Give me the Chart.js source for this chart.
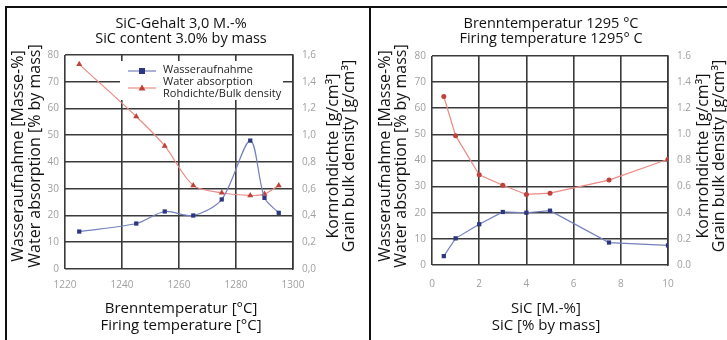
<!DOCTYPE html>
<html>
<head>
<meta charset="utf-8">
<script src="https://cdn.jsdelivr.net/npm/chart.js@4.4.1/dist/chart.umd.min.js"></script>
<style>
	body { margin: 0; background: #fff; }
	#wrap { position: relative; width: 727px; height: 340px; overflow: hidden; background: #fff; }
	#wrap canvas { position: absolute; top: 0; }
	.line { position: absolute; background: #111; z-index: 2; }
</style>
</head>
<body>
<div id="wrap">
	<canvas id="chartTemp" width="370" height="340" style="left:0;width:370px;height:340px"></canvas>
	<canvas id="chartSic" width="357" height="340" style="left:370px;width:357px;height:340px"></canvas>
	<div class="line" style="left:5px;top:6px;width:722px;height:2px"></div>
	<div class="line" style="left:5px;top:6px;width:2px;height:334px"></div>
	<div class="line" style="left:369px;top:6px;width:2px;height:334px"></div>
</div>
<script>
// Diagramm 1: SiC-Gehalt 3,0 M.-%
const tempX = [1225, 1245, 1255, 1265, 1275, 1285, 1290, 1295];
const tempWater = [14, 17, 21.5, 20, 26, 48, 26.6, 21];
const tempDensity = [1.53, 1.14, 0.92, 0.625, 0.57, 0.55, 0.56, 0.625];
const tempTicks = [1220, 1240, 1260, 1280, 1300];

// Diagramm 2: Brenntemperatur 1295 °C
const sicX = [0.5, 1, 2, 3, 4, 5, 7.5, 10];
const sicWater = [3.4, 10.2, 15.6, 20.3, 20, 20.8, 8.6, 7.5];
const sicDensity = [1.29, 0.99, 0.69, 0.61, 0.54, 0.55, 0.65, 0.81];
const sicTicks = [0, 2, 4, 6, 8, 10];

const waterLabel = ["Wasseraufnahme", "Water absorption"];
const densityLabel = "Rohdichte/Bulk density";

const FONT = "'Open Sans', 'DejaVu Sans', sans-serif";
const BLUE = '#2d3680', BLUE_LINE = '#7480bc';
const RED = '#c0403a', RED_LINE = '#ea8a84';

function pts(xs, ys) {
	return xs.map((x, i) => ({ x: x, y: ys[i] }));
}

// Titel, Achsentitel und Legende
const textPlugin = {
	id: 'texts',
	beforeDatasetsDraw(chart, args, o) {
		if (!o.legend) return;
		const c = chart.ctx;
		c.save();
		c.fillStyle = '#fff';
		c.fillRect(120, 61, 163, 39);
		c.font = "11px " + FONT;
		c.fillStyle = '#222';
		c.textBaseline = 'middle';
		c.fillText(waterLabel[0], 163, 70);
		c.fillText(waterLabel[1], 163, 82);
		c.fillText(densityLabel, 163, 94);
		c.lineWidth = 1.2;
		c.strokeStyle = BLUE_LINE;
		c.beginPath(); c.moveTo(128, 71); c.lineTo(156, 71); c.stroke();
		c.strokeStyle = RED_LINE;
		c.beginPath(); c.moveTo(128, 88); c.lineTo(156, 88); c.stroke();
		c.fillStyle = BLUE;
		c.fillRect(139, 68, 6, 6);
		c.fillStyle = RED;
		c.beginPath(); c.moveTo(142, 84.5); c.lineTo(145.5, 90.5); c.lineTo(138.5, 90.5); c.closePath(); c.fill();
		c.restore();
	},
	afterDraw(chart, args, o) {
		const c = chart.ctx;
		c.save();
		c.fillStyle = '#111';
		c.textAlign = 'center';
		c.textBaseline = 'middle';
		c.font = "14.5px " + FONT;
		o.title.forEach((t, i) => c.fillText(t, o.titleX, o.titleY[i]));
		c.font = "15px " + FONT;
		o.xTitle.forEach((t, i) => c.fillText(t, o.xTitleX, o.xTitleY[i]));
		c.font = "16px " + FONT;
		[[o.yTitle, o.yTitleX], [o.y1Title, o.y1TitleX]].forEach(a => {
			a[0].forEach((t, i) => {
				c.save();
				c.translate(a[1][i], o.yTitleY);
				c.rotate(-Math.PI / 2);
				c.fillText(t, 0, 0);
				c.restore();
			});
		});
		c.restore();
	}
};

function makeChart(id, xs, water, density, xTicks, opt) {
	const ctx = document.getElementById(id).getContext('2d');
	const tickFont = { family: FONT, size: 10 };
	const tickColor = '#a0a0a0';
	const grid = { color: '#3a3a3a', lineWidth: 1.6, drawTicks: false };
	return new Chart(ctx, {
		type: 'line',
		plugins: [textPlugin],
		data: {
			datasets: [
				{
					label: waterLabel.join(' '),
					data: pts(xs, water),
					yAxisID: 'y',
					borderColor: BLUE_LINE,
					backgroundColor: BLUE,
					pointStyle: 'rect',
					pointRadius: 3,
					pointBorderWidth: 0,
					borderWidth: 1.2,
					tension: opt.tension,
				}, {
					label: densityLabel,
					data: pts(xs, density),
					yAxisID: 'y1',
					borderColor: RED_LINE,
					backgroundColor: RED,
					pointStyle: opt.redPoint,
					pointRadius: opt.redRadius,
					pointBorderWidth: 0,
					borderWidth: 1.2,
					tension: opt.tension,
				}
			]
		},
		options: {
			responsive: false,
			animation: false,
			layout: { padding: { top: opt.top, left: 0, right: 0, bottom: 0 } },
			plugins: {
				legend: { display: false },
				tooltip: { enabled: false },
				texts: opt.texts
			},
			scales: {
				x: {
					type: 'linear',
					min: xTicks[0],
					max: xTicks[xTicks.length - 1],
					afterBuildTicks: s => { s.ticks = xTicks.map(v => ({ value: v })); },
					afterFit: s => { s.height = opt.xHeight; },
					ticks: { font: tickFont, color: tickColor, padding: opt.xPad, maxRotation: 0, callback: v => String(v) },
					grid: grid,
					border: { display: false }
				},
				y: {
					min: 0, max: 80,
					afterFit: s => { s.width = opt.yWidth; },
					ticks: { stepSize: 10, font: tickFont, color: tickColor, padding: 6 },
					grid: grid,
					border: { display: false }
				},
				y1: {
					position: 'right',
					min: 0, max: 1.6,
					afterFit: s => { s.width = opt.y1Width; },
					ticks: {
						stepSize: 0.2, font: tickFont, color: tickColor, padding: 9,
						callback: v => opt.comma ? v.toFixed(1).replace('.', ',') : v.toFixed(1)
					},
					grid: { drawOnChartArea: false, drawTicks: false },
					border: { display: true, color: '#3a3a3a', width: 1.6 }
				}
			}
		}
	});
}

makeChart('chartTemp', tempX, tempWater, tempDensity, tempTicks, {
	tension: 0.3, redPoint: 'triangle', redRadius: 3.5, top: 55, xHeight: 71, xPad: 10,
	yWidth: 65, y1Width: 77, comma: true,
	texts: {
		legend: true,
		title: ["SiC-Gehalt 3,0 M.-%", "SiC content 3.0% by mass"], titleX: 181, titleY: [24, 39],
		xTitle: ["Brenntemperatur [°C]", "Firing temperature [°C]"], xTitleX: 181, xTitleY: [309, 326],
		yTitle: ["Wasseraufnahme [Masse-%]", "Water absorption [% by mass]"], yTitleX: [18, 35],
		y1Title: ["Kornrohdichte [g/cm³]", "Grain bulk density [g/cm³]"], y1TitleX: [333, 349],
		yTitleY: 156
	}
});

makeChart('chartSic', sicX, sicWater, sicDensity, sicTicks, {
	tension: 0, redPoint: 'circle', redRadius: 2.5, top: 56, xHeight: 75, xPad: 13,
	yWidth: 62, y1Width: 59, comma: false,
	texts: {
		legend: false,
		title: ["Brenntemperatur 1295 °C", "Firing temperature 1295° C"], titleX: 181, titleY: [24, 39],
		xTitle: ["SiC [M.-%]", "SiC [% by mass]"], xTitleX: 176, xTitleY: [309, 326],
		yTitle: ["Wasseraufnahme [Masse-%]", "Water absorption [% by mass]"], yTitleX: [15, 31],
		y1Title: ["Kornrohdichte [g/cm³]", "Grain bulk density [g/cm³]"], y1TitleX: [333, 349],
		yTitleY: 156
	}
});
</script>
</body>
</html>
